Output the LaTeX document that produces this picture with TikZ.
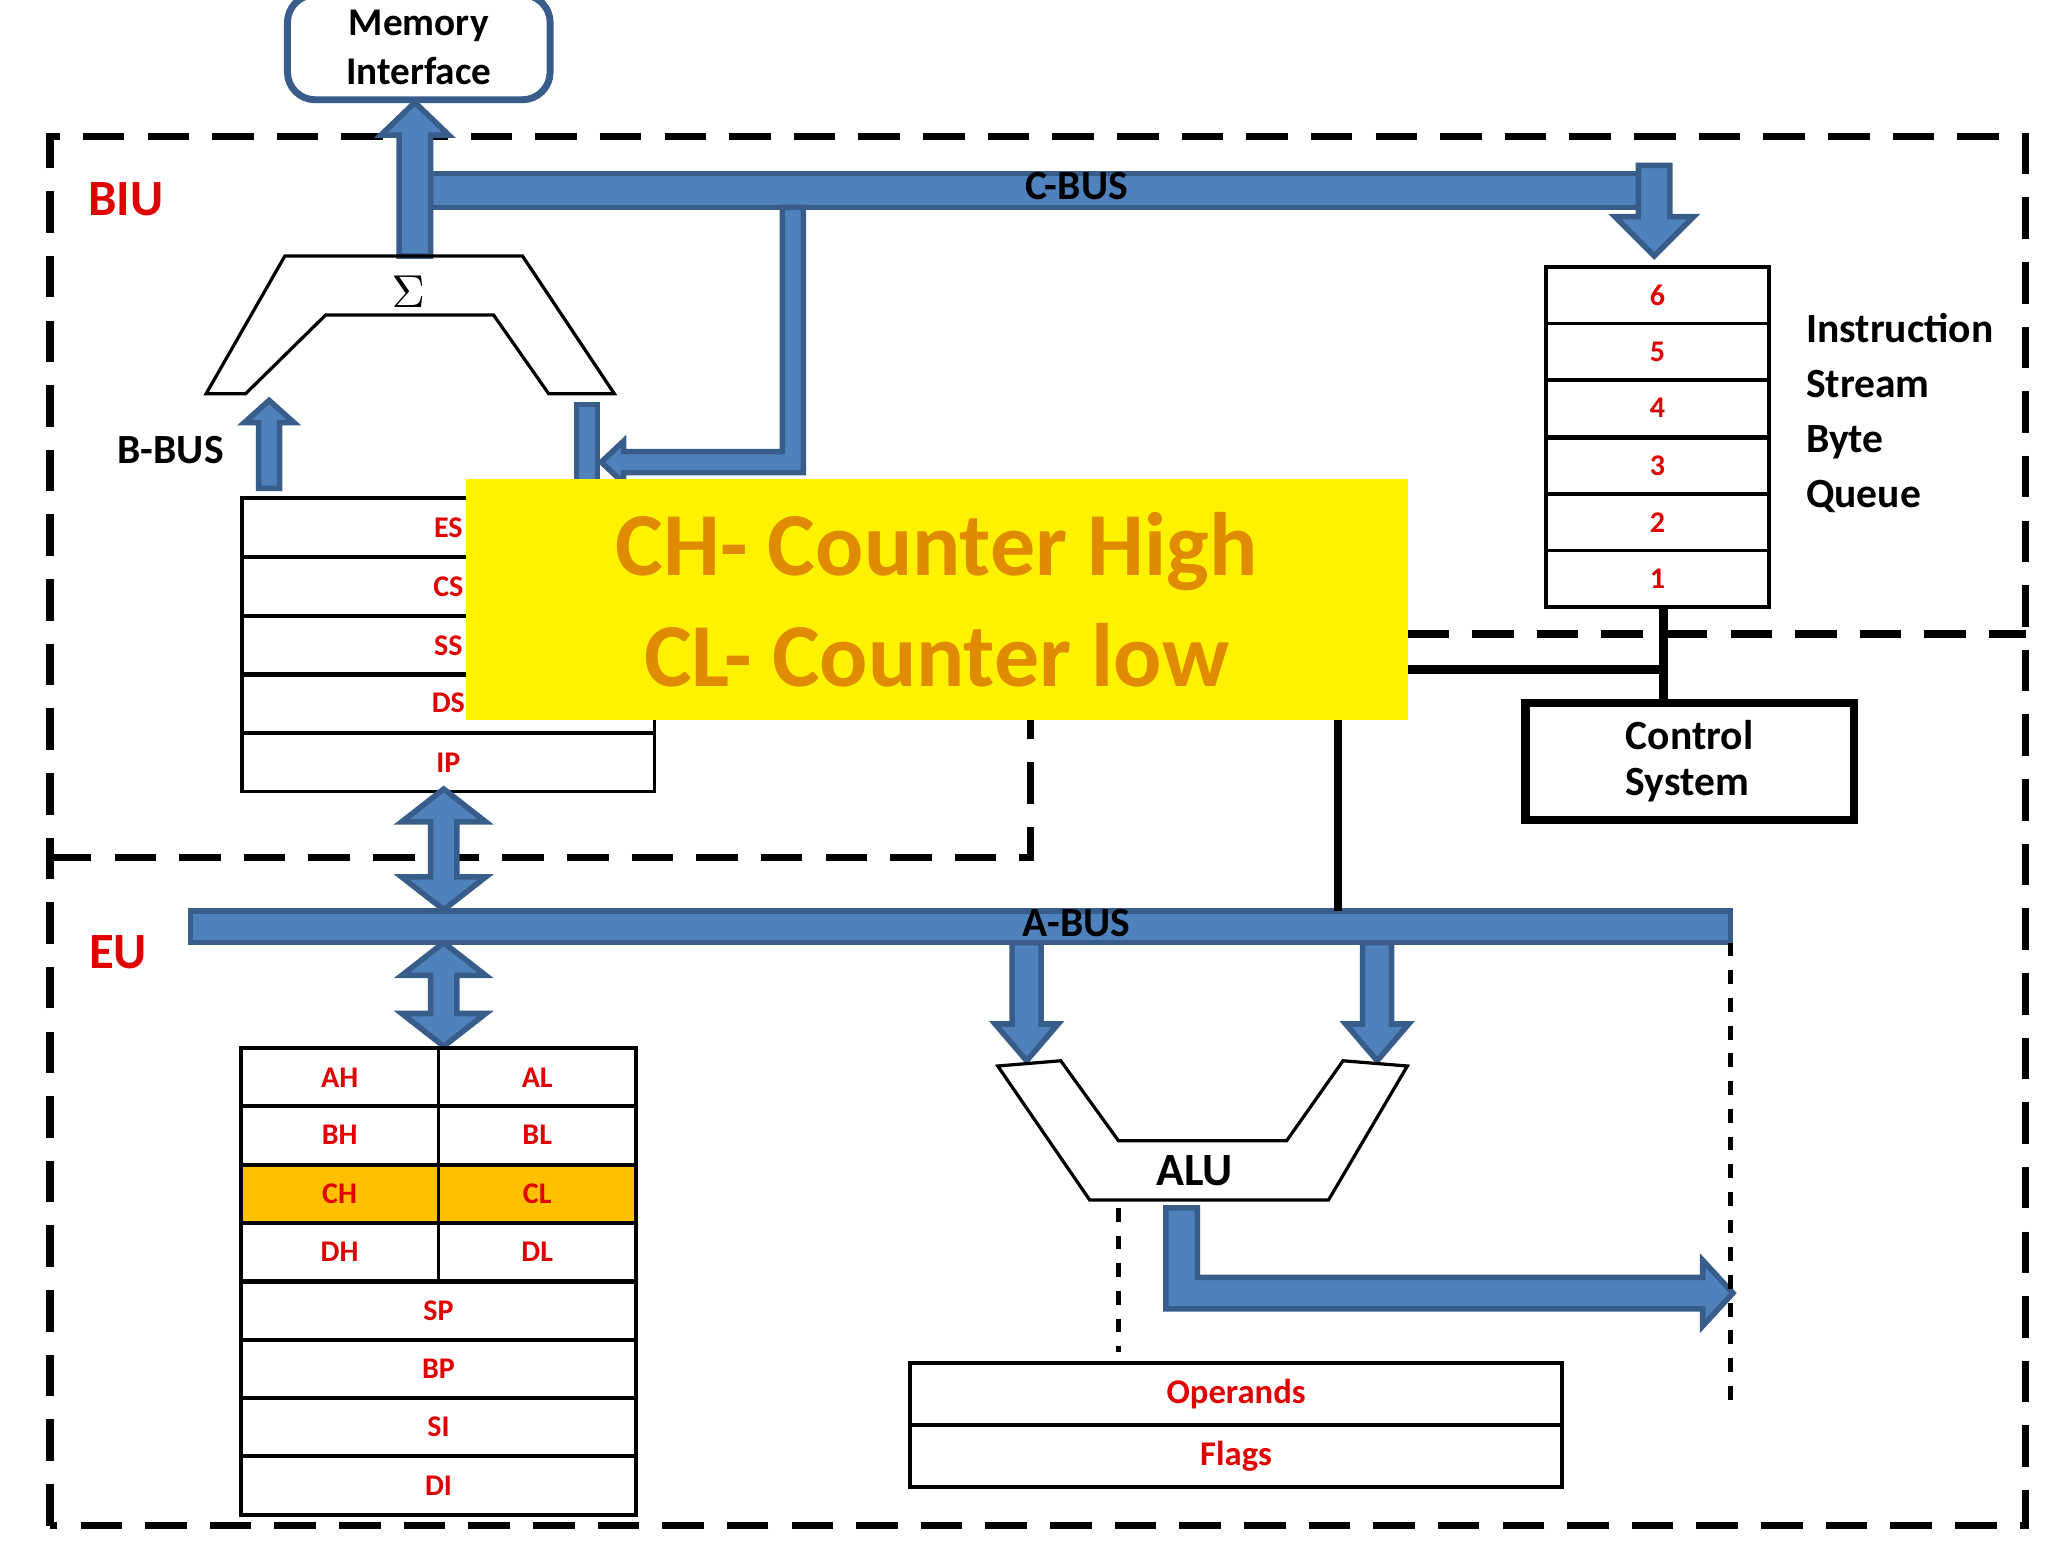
\documentclass[tikz,border=0pt]{standalone}
\usepackage{fontspec}
\setmainfont{Carlito}
\definecolor{busblue}{HTML}{4F81BD}
\definecolor{busedge}{HTML}{385D8A}
\definecolor{regred}{HTML}{E00000}
\definecolor{chorange}{HTML}{FFC000}
\definecolor{hlorange}{HTML}{E08A00}
\begin{document}
\begin{tikzpicture}[x=0.01cm,y=-0.01cm,
  bus/.style={fill=busblue,draw=busedge,line width=1.2pt,line join=miter},
  region/.style={dashed,line width=1.6pt,dash pattern=on 9pt off 5pt},
  reg/.style={font=\fontsize{6.5}{8}\selectfont\bfseries,text=regred},
  lbl/.style={font=\fontsize{9}{10}\selectfont\bfseries,align=left},
  box/.style={draw,line width=0.8pt}]
\useasboundingbox (0,0) rectangle (1560,1176);
% regions
\draw[region] (38,1162) -- (38,104) -- (1543,104) -- (1543,1162) -- cycle;
\draw[region] (38,653) -- (785,653) -- (785,548);
\draw[region] (1072,483) -- (1543,483);
\node[font=\fontsize{11}{12}\selectfont\bfseries,text=regred] (biu) at (96,152) {BIU};
\node[font=\fontsize{11}{12}\selectfont\bfseries,text=regred] (eu) at (90,725) {EU};
% memory interface
\node[draw=busedge,line width=1.5pt,rounded corners=6pt,minimum width=2cm,minimum height=0.76cm,lbl,align=center,font=\fontsize{8.5}{10.5}\selectfont\bfseries] (mem) at (319,36) {Memory\\Interface};
% C-BUS
\draw[bus] (316,132) rectangle (1248,158);
\draw[bus] (304,195) -- (304,103) -- (290,103) -- (316,78) -- (342,103) -- (328,103) -- (328,195) -- cycle;
\draw[bus] (1248,126) -- (1272,126) -- (1272,165) -- (1290,165) -- (1260,195) -- (1230,165) -- (1248,165) -- cycle;
\node[lbl] (cbus) at (820,142) {C-BUS};
\draw[bus] (596,158) -- (612,158) -- (612,360) -- (475,360) -- (475,368) -- (458,352) -- (475,336) -- (475,344) -- (596,344) -- cycle;
% adder
\draw[line width=0.7pt] (157,300) -- (217,195) -- (398,195) -- (468,300) -- (418,300) -- (376,240) -- (248,240) -- (187,300) -- cycle;
\node (sigma) at (311,222) {$\Sigma$};
\draw[bus] (197,372) -- (197,322) -- (186,322) -- (205,305) -- (224,322) -- (213,322) -- (213,372) -- cycle;
\node[lbl] (bbus) at (130,343) {B-BUS};
\draw[bus] (439,308) rectangle (455,372);
% segment registers
\foreach \n/\y in {ES/378,CS/423,SS/468,DS/512,IP/557}{
  \node[box,minimum width=3.14cm,minimum height=0.445cm,reg,anchor=north west,inner sep=0] (\n) at (183,\y) {\n};}
% double arrows
\draw[bus] (328,626) -- (306,626) -- (338,601) -- (370,626) -- (348,626) -- (348,668) -- (370,668) -- (338,693) -- (306,668) -- (328,668) -- cycle;
\draw[bus] (328,743) -- (306,743) -- (338,718) -- (370,743) -- (348,743) -- (348,772) -- (370,772) -- (338,797) -- (306,772) -- (328,772) -- cycle;
% A-BUS
\draw[bus] (145,694) rectangle (1318,718);
\node[lbl] (abus) at (820,703) {A-BUS};
\draw[bus] (771,718) -- (793,718) -- (793,780) -- (806,780) -- (782,808) -- (758,780) -- (771,780) -- cycle;
\draw[bus] (1038,718) -- (1060,718) -- (1060,780) -- (1073,780) -- (1049,808) -- (1025,780) -- (1038,780) -- cycle;
% general registers
\foreach \a/\b/\y/\c in {AH/AL/797/white,BH/BL/841/white,CH/CL/886/chorange,DH/DL/930/white}{
  \node[box,fill=\c,minimum width=1.505cm,minimum height=0.445cm,reg,anchor=north west,inner sep=0] (\a) at (182,\y) {\a};
  \node[box,fill=\c,minimum width=1.505cm,minimum height=0.445cm,reg,anchor=north west,inner sep=0] (\b) at (332.5,\y) {\b};}
\foreach \n/\y in {SP/975,BP/1019,SI/1063,DI/1108}{
  \node[box,minimum width=3.01cm,minimum height=0.445cm,reg,anchor=north west,inner sep=0] (\n) at (182,\y) {\n};}
% ALU
\draw[line width=0.7pt] (760,812) -- (830,914) -- (1012,914) -- (1072,812) -- (1023,808) -- (980,869) -- (852,869) -- (808,808) -- cycle;
\node[lbl,font=\fontsize{10}{12}\selectfont\bfseries] (alu) at (910,892) {ALU};
\draw[bus] (888,920) -- (912,920) -- (912,973) -- (1297,973) -- (1297,960) -- (1320,985) -- (1297,1010) -- (1297,997) -- (888,997) -- cycle;
\draw[dashed,line width=1.2pt] (852,920) -- (852,1030);
\draw[dashed,line width=1.2pt] (1318,718) -- (1318,1068);
% operands/flags
\node[box,minimum width=4.96cm,minimum height=0.47cm,reg,font=\fontsize{7.5}{9}\selectfont\bfseries,anchor=north west,inner sep=0] (ops) at (692,1037) {Operands};
\node[box,minimum width=4.96cm,minimum height=0.47cm,reg,font=\fontsize{7.5}{9}\selectfont\bfseries,anchor=north west,inner sep=0] (flags) at (692,1084) {Flags};
% queue
\foreach \n/\y in {6/202,5/245,4/288,3/332,2/375,1/418}{
  \node[box,minimum width=1.7cm,minimum height=0.43cm,reg,anchor=north west,inner sep=0] (q\n) at (1176,\y) {\n};}
\node[lbl,anchor=north west,font=\fontsize{9}{11.9}\selectfont\bfseries,inner sep=0] (isbq) at (1375,238) {Instruction\\Stream\\Byte\\Queue};
% control system
\node[draw,line width=1.8pt,minimum width=2.5cm,minimum height=0.89cm,lbl,align=left] (ctrl) at (1287,580) {Control\\System};
\draw[line width=1.8pt] (q1.south -| 1267,0) -- (ctrl.north -| 1267,0);
\coordinate (cl) at (1019,510);
\draw[line width=1.8pt] (cl) -- (1267,510);
\draw[line width=1.8pt] (1019,510) -- (1019,694);
% highlight
\node[fill=yellow,minimum width=7.17cm,minimum height=1.84cm,anchor=north west,inner sep=0] (hl) at (354,364) {};
\node[font=\fontsize{19.5}{24}\selectfont\bfseries,text=hlorange,align=center] (hltext) at (hl.center) {CH- Counter High\\CL- Counter low};
\end{tikzpicture}
\end{document}
